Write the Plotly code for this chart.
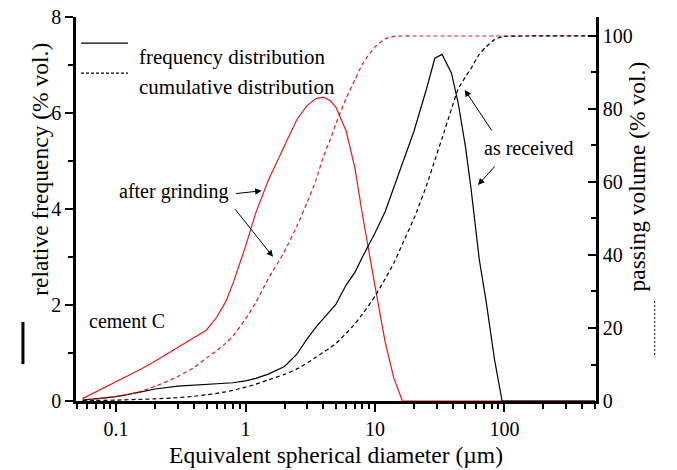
import numpy as np
import plotly.graph_objects as go

# particle size (um)
diam = [0.055, 0.07, 0.1, 0.15, 0.2, 0.3, 0.4, 0.5, 0.6, 0.7, 0.8, 1, 1.2, 1.5, 2, 2.5, 3, 3.5,
        4, 4.5, 5, 6, 7, 8, 10, 12, 14, 16.3, 20, 25, 29, 33, 39, 44, 50, 55, 64, 72, 84, 96, 150, 500]

# after grinding (red)
freq_ground = [0.05, 0.19, 0.40, 0.64, 0.83, 1.12, 1.32, 1.48, 1.75, 2.06, 2.45, 3.22, 3.92, 4.6, 5.32, 5.87, 6.16, 6.30,
               6.33, 6.26, 6.12, 5.62, 4.85, 3.88, 2.4, 1.22, 0.47, 0, 0, 0, 0, 0, 0, 0, 0, 0, 0, 0, 0, 0, 0, 0]
cum_ground = [0, 0.5, 1.2, 2.5, 4.0, 6.7, 9.2, 11.8, 13.8, 15.8, 17.8, 22.5, 27, 33.5, 41, 48, 54.5, 60.5,
              67, 71.5, 76, 83, 88, 92.3, 97, 99.2, 99.9, 100, 100, 100, 100, 100, 100, 100, 100, 100, 100, 100, 100, 100, 100, 100]

# as received (black)
freq_received = [0.02, 0.05, 0.09, 0.18, 0.25, 0.31, 0.33, 0.34, 0.35, 0.36, 0.38, 0.42, 0.47, 0.56, 0.72, 0.98, 1.3, 1.54,
                 1.72, 1.87, 2.02, 2.42, 2.68, 3.0, 3.5, 3.95, 4.45, 4.95, 5.62, 6.5, 7.14, 7.22, 6.83, 6.2, 5.3, 4.46, 2.94, 2.1, 0.85, 0, 0, 0]
cum_received = [0, 0.1, 0.25, 0.45, 0.6, 0.9, 1.3, 1.7, 2.1, 2.5, 2.9, 3.8, 4.6, 5.8, 7.3, 8.8, 10.4, 12,
                13.4, 14.6, 15.8, 18.6, 21.2, 23.8, 28.7, 33.5, 37.8, 43, 50, 59, 66, 72, 80, 85.5, 88.8, 91, 95, 97, 99, 99.8, 100, 100]

RED = "#e31a1c"
FONT = "Liberation Serif"

fig = go.Figure()
fig.add_trace(go.Scatter(x=diam, y=freq_ground, mode='lines', line=dict(color=RED, width=1.2)))
fig.add_trace(go.Scatter(x=diam, y=freq_received, mode='lines', line=dict(color="black", width=1.2)))
fig.add_trace(go.Scatter(x=diam, y=cum_ground, mode='lines', yaxis="y2",
                         line=dict(color=RED, width=1.2, dash="4px,3px", shape="spline", smoothing=0.6)))
fig.add_trace(go.Scatter(x=diam, y=cum_received, mode='lines', yaxis="y2",
                         line=dict(color="black", width=1.2, dash="4px,3px", shape="spline", smoothing=0.6)))

minor_x = [k * 10.0 ** e for e in range(-2, 3) for k in range(2, 10)]
ax_common = dict(showline=True, linewidth=2.5, linecolor="black", showgrid=False, zeroline=False,
                 tickwidth=2, tickcolor="black", tickfont=dict(size=20), automargin=False)

fig.update_layout(
    width=677, height=470,
    margin=dict(l=76, r=81, t=17, b=69),
    plot_bgcolor="white", paper_bgcolor="white",
    showlegend=False,
    font=dict(family=FONT, size=20, color="black"),
    xaxis=dict(type="log", range=[np.log10(0.049), np.log10(510)],
               tickvals=[0.1, 1, 10, 100], ticktext=["0.1", "1", "10", "100"],
               ticks="outside", ticklen=8,
               minor=dict(tickvals=minor_x, ticks="outside", ticklen=5, tickwidth=2, tickcolor="black"),
               title=dict(text="Equivalent spherical diameter (µm)", font=dict(size=23.5), standoff=8),
               **ax_common),
    yaxis=dict(range=[0, 8], dtick=2, ticks="outside", ticklen=8,
               minor=dict(dtick=1, ticks="outside", ticklen=5, tickwidth=2, tickcolor="black"),
               **ax_common),
    yaxis2=dict(overlaying="y", side="right", range=[0, 105.2],
                tickvals=[0, 20, 40, 60, 80, 100], ticks="inside", ticklen=8,
                minor=dict(tickvals=[10, 30, 50, 70, 90], ticks="inside", ticklen=5, tickwidth=2, tickcolor="black"),
                **ax_common),
)

# axis titles with line keys
fig.add_annotation(text="relative frequency (% vol.)", xref="paper", yref="paper", x=-0.098, y=0.602,
                   textangle=-90, showarrow=False, font=dict(size=23.5))
fig.add_shape(type="line", xref="paper", yref="paper", x0=-0.102, x1=-0.102, y0=0.096, y1=0.206,
              line=dict(color="black", width=3))
fig.add_annotation(text="passing volume (% vol.)", xref="paper", yref="paper", x=1.108, y=0.585,
                   textangle=-90, showarrow=False, font=dict(size=23.5))
fig.add_shape(type="line", xref="paper", yref="paper", x0=1.113, x1=1.113, y0=0.12, y1=0.263,
              line=dict(color="black", width=1, dash="2px,2px"))

# legend
fig.add_shape(type="line", xref="paper", yref="paper", x0=0.0096, x1=0.1, y0=0.932, y1=0.932,
              line=dict(color="black", width=1.2))
fig.add_shape(type="line", xref="paper", yref="paper", x0=0.0096, x1=0.1, y0=0.854, y1=0.854,
              line=dict(color="black", width=1.2, dash="3px,2px"))
fig.add_annotation(text="frequency distribution", xref="paper", yref="paper", x=0.117, y=0.932,
                   xanchor="left", showarrow=False, font=dict(size=21))
fig.add_annotation(text="cumulative distribution", xref="paper", yref="paper", x=0.117, y=0.854,
                   xanchor="left", showarrow=False, font=dict(size=21))

# labels
fig.add_annotation(text="after grinding", xref="paper", yref="paper", x=0.0788, y=0.545,
                   xanchor="left", showarrow=False)
fig.add_annotation(text="as received", xref="paper", yref="paper", x=0.780, y=0.658,
                   xanchor="left", showarrow=False)
fig.add_annotation(text="cement C", xref="paper", yref="paper", x=0.0217, y=0.174,
                   xanchor="left", showarrow=False)

arrow = dict(text="", showarrow=True, arrowhead=2, arrowsize=1.3, arrowwidth=1, arrowcolor="black")
fig.add_annotation(x=np.log10(1.33), y=4.38, xref="x", yref="y", ax=-27, ay=3, **arrow)
fig.add_annotation(x=np.log10(1.63), y=39.5, xref="x", yref="y2", ax=-39, ay=-49, **arrow)
fig.add_annotation(x=np.log10(49.4), y=85.2, xref="x", yref="y2", ax=28, ay=42, **arrow)
fig.add_annotation(x=np.log10(62.5), y=4.5, xref="x", yref="y", ax=18, ay=-20, **arrow)

fig.write_html("out.html", config={"displayModeBar": False},
               post_script="document.body.style.margin='0px';")
